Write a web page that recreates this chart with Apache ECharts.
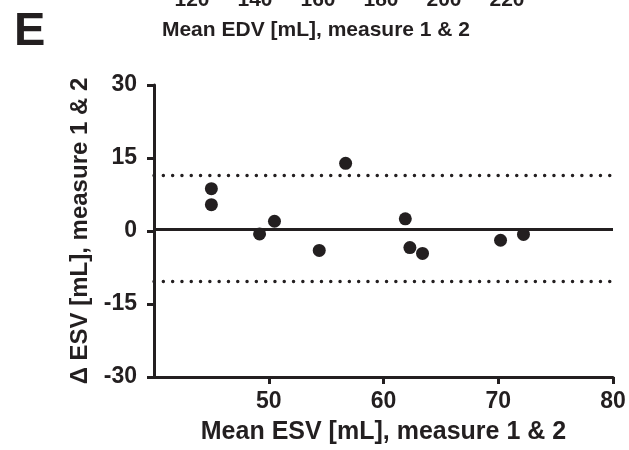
<!DOCTYPE html>
<html>
<head>
<meta charset="utf-8">
<script src="https://cdn.jsdelivr.net/npm/echarts@6/dist/echarts.min.js"></script>
<style>html,body{margin:0;padding:0;background:#fff}#c{width:629px;height:450px}</style>
</head>
<body>
<div id="c"></div>
<script>
// Panel E: Bland-Altman, ESV
const meanESV = [45.0, 45.0, 49.2, 50.5, 56.7, 61.9, 54.4, 62.3, 63.4, 70.2, 72.2];
const diffESV = [8.7, 5.4, -0.6, 2.0, 13.9, 2.5, -4.0, -3.4, -4.6, -1.9, -0.7];
const bias = 0.3;
const upperLoA = 11.4;
const lowerLoA = -10.3;
const xTicks = [40, 50, 60, 70, 80];
const yTicks = [-30, -15, 0, 15, 30];
// Cut-off axis of previous panel (D)
const prevTicks = [120, 140, 160, 180, 200, 220];

const INK = '#231f20';
const FONT = 'Liberation Sans, Arial, Helvetica, sans-serif';
const chart = echarts.init(document.getElementById('c'), null, {renderer: 'canvas'});

chart.setOption({
  animation: false,
  backgroundColor: '#fff',
  grid: [
    {left: 154, right: 16, top: 85, bottom: 71},
    {left: 192, right: 122, top: -40, height: 20}
  ],
  graphic: [
    {type: 'text', left: 14, top: 9, style: {text: 'E', font: 'bold 47px ' + FONT, fill: INK}},
    {type: 'text', x: 316, y: 20, style: {text: 'Mean EDV [mL], measure 1 & 2', font: 'bold 21px ' + FONT, fill: INK, align: 'center', verticalAlign: 'top'}}
  ],
  xAxis: [
    {
      type: 'value', gridIndex: 0, min: xTicks[0], max: xTicks[xTicks.length - 1], interval: 10,
      splitLine: {show: false},
      axisLine: {show: true, onZero: false, lineStyle: {color: INK, width: 3}},
      axisTick: {show: true, length: 7, lineStyle: {color: INK, width: 3}},
      axisLabel: {showMinLabel: false, color: INK, fontSize: 23, fontWeight: 'bold', fontFamily: FONT, margin: 13},
      name: 'Mean ESV [mL], measure 1 & 2', nameLocation: 'middle', nameGap: 43,
      nameTextStyle: {color: INK, fontSize: 25, fontWeight: 'bold', fontFamily: FONT}
    },
    {
      type: 'value', gridIndex: 1, min: prevTicks[0], max: prevTicks[prevTicks.length - 1], interval: 20,
      splitLine: {show: false}, axisLine: {show: false}, axisTick: {show: false},
      axisLabel: {color: INK, fontSize: 21, fontWeight: 'bold', fontFamily: FONT, margin: 5}
    }
  ],
  yAxis: [
    {
      type: 'value', gridIndex: 0, min: yTicks[0], max: yTicks[yTicks.length - 1], interval: 15,
      splitLine: {show: false},
      axisLine: {show: true, onZero: false, lineStyle: {color: INK, width: 3}},
      axisTick: {show: true, length: 7, lineStyle: {color: INK, width: 3}},
      axisLabel: {color: INK, fontSize: 23, fontWeight: 'bold', fontFamily: FONT, margin: 17},
      name: 'Δ ESV [mL], measure 1 & 2', nameLocation: 'middle', nameGap: 51, nameRotate: 90,
      nameTextStyle: {color: INK, fontSize: 24, fontWeight: 'bold', fontFamily: FONT}
    },
    {type: 'value', gridIndex: 1, show: false, min: 0, max: 1}
  ],
  series: [
    {
      type: 'scatter', xAxisIndex: 0, yAxisIndex: 0,
      data: meanESV.map((x, i) => [x, diffESV[i]]),
      symbol: 'circle', symbolSize: 13,
      itemStyle: {color: INK, opacity: 1},
      z: 5,
      markLine: {
        silent: true, symbol: 'none', label: {show: false},
        data: [
          {yAxis: bias, lineStyle: {color: INK, width: 3, type: 'solid', opacity: 1}},
          {yAxis: upperLoA, lineStyle: {color: INK, width: 3.4, type: [0.1, 9.2], cap: 'round', opacity: 1}},
          {yAxis: lowerLoA, lineStyle: {color: INK, width: 3.4, type: [0.1, 9.2], cap: 'round', opacity: 1}}
        ]
      }
    }
  ]
});
</script>
</body>
</html>
